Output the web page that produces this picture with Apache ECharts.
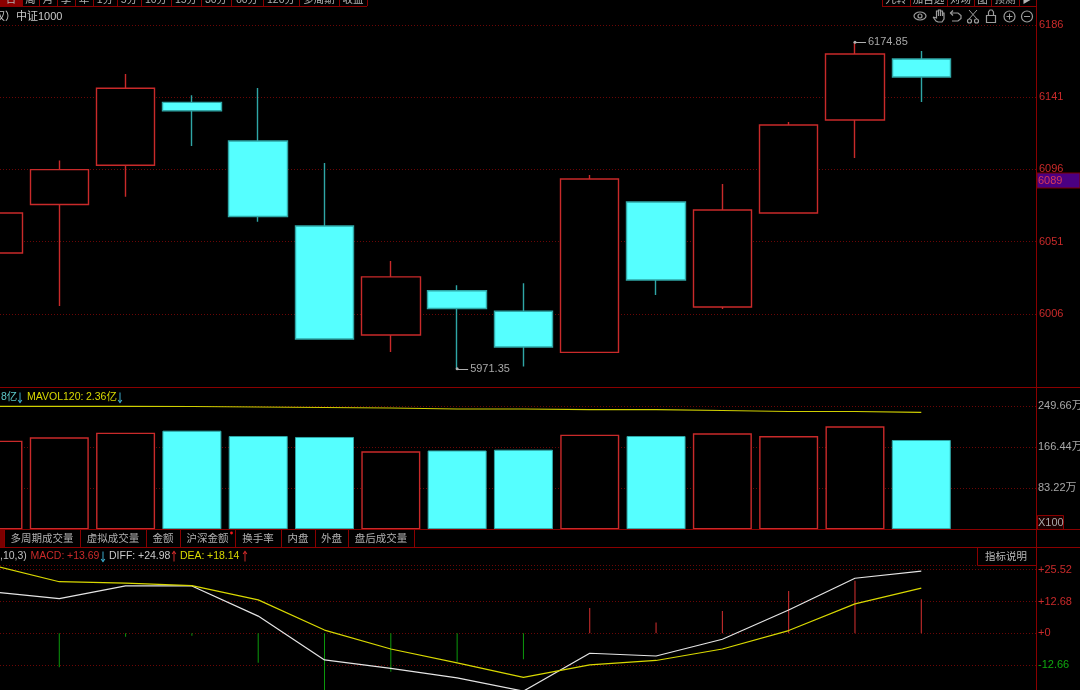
<!DOCTYPE html>
<html>
<head>
<meta charset="utf-8">
<style>html,body{margin:0;padding:0;background:#000}#c{width:1080px;height:690px}</style>
<script src="https://cdn.jsdelivr.net/npm/echarts@6/dist/echarts.min.js"></script>
</head>
<body>
<div id="c"></div>
<script>
// ---- data ----
const positions = [-1,0,1,2,3,4,5,6,7,8,9,10,11,12,13];
const opens  = [6043.5,6073.7,6098.2,6137.4,6113.3,6060.3,5992.4,6020.0,6007.2,5981.6,6075.3,6009.9,6068.4,6126.4,6164.4];
const closes = [6068.4,6095.5,6146.2,6132.2,6066.3,5989.9,6028.6,6008.9,5984.9,6089.6,6026.7,6070.3,6123.3,6167.5,6153.2];
const lows   = [6040.0,6010.5,6078.6,6110.2,6063.0,5989.9,5981.8,5971.35,5972.7,5981.6,6017.3,6008.6,6068.4,6102.7,6137.6];
const highs  = [6072.0,6101.2,6155.1,6141.8,6146.3,6099.6,6038.6,6023.4,6024.6,6092.1,6075.3,6086.5,6125.1,6174.85,6169.4];
const volumes  = [179.9,186.8,196.1,200.2,189.4,187.4,158.3,160.0,161.6,192.0,189.4,194.9,189.4,209.1,181.3];
const mavol120 = [249.7,249.7,249.5,249.3,248.3,247.3,246.2,244.2,244.2,242.8,242.8,241.2,239.1,239.1,237.5];
const diffs = [16.6,13.9,19.0,19.0,6.9,-10.7,-14.1,-17.9,-23.2,-8.0,-9.1,-2.4,9.35,22.1,24.98];
const deas  = [27.2,20.7,20.1,19.1,13.4,1.3,-6.3,-11.9,-17.7,-12.7,-10.9,-6.3,1.1,11.8,18.14];
const macds = [-21.0,-13.6,-1.4,-1.0,-11.8,-24.0,-15.4,-11.4,-10.4,10.2,4.3,8.9,17.0,21.1,13.69];
const priceTicks = [6005.6,6050.6,6095.6,6140.6,6185.6];
const volumeTicks = [83.22,166.44,249.66];
const macdTicks = [-12.66,0,12.68,25.52];
const macdExtraGrid = 27.13;
const topTabsLeft = ['日','周','月','季','年','1分','5分','10分','15分','30分','60分','120分','多周期','收益'];
const topTabsRight = ['九转','加自选','对场','图','预测','▶'];
const volumeTabs = ['多周期成交量','虚拟成交量','金额','沪深金额','换手率','内盘','外盘','盘后成交量'];
const highLabel = 6174.85, lowLabel = 5971.35;

// ---- style ----
const RED='#c92a2a', CYAN='#55ffff', CYANE='#2fa6a6', GRID='#6a0606', LINE='#8a0000';
const FONT='"Liberation Sans","Noto Sans CJK SC",sans-serif';
const GREY='#a8a8a8', ICON='#9c9c9c', ARROWB='#3aa8c8';
const split={show:true,lineStyle:{color:GRID,type:[1,2],width:1}};
const xBase={type:'value',min:-0.894,max:14.73,show:false};
const isUp=i=>closes[i]>opens[i];

function T(x,y,text,fill,size,align){
  return {type:'text',x:x,y:y,z:50,silent:true,style:{text:text,fill:fill,font:(size||11)+'px '+FONT,
    textAlign:align||'left',textVerticalAlign:'middle'}};
}
function R(x,y,w,h,fill,stroke){
  return {type:'rect',z:40,silent:true,shape:{x:x,y:y,width:w,height:h},style:{fill:fill||'transparent',stroke:stroke||null,lineWidth:1}};
}
function L(x1,y1,x2,y2,c){
  return {type:'line',z:45,silent:true,shape:{x1:x1,y1:y1,x2:x2,y2:y2},style:{stroke:c||LINE,lineWidth:1}};
}
function C(cx,cy,r){
  return {type:'circle',z:50,silent:true,shape:{cx:cx,cy:cy,r:r},style:{fill:'none',stroke:ICON,lineWidth:1.2}};
}
function PL(points,c){
  return {type:'polyline',z:50,silent:true,shape:{points:points},style:{fill:'none',stroke:c||ICON,lineWidth:1.2}};
}
function ARROW(x,y,down,c){
  const tip=down?y+5:y-5, back=down?y+2.5:y-2.5;
  return [L(x,y-5,x,y+5,c),PL([[x-1.8,back],[x,tip],[x+1.8,back]],c)];
}
const g=[];
// panel rules
g.push(L(1036.5,0,1036.5,690,'#8a0000'));
g.push(L(0,387.5,1080,387.5));
g.push(L(0,529.5,1080,529.5));
g.push(L(0,547.5,1080,547.5));
// top tabs (cut off by the window)
const leftEdges=[0,22,39,57,75,93,117,141,171,201,231,263,299,339,367];
g.push(R(0,-2,22,8,'#8c0000'));
topTabsLeft.forEach((t,i)=>{
  g.push(L(leftEdges[i+1]+.5,0,leftEdges[i+1]+.5,6));
  g.push(T((leftEdges[i]+leftEdges[i+1])/2,0,t,'#b4b4b4',10.5,'center'));
});
g.push(L(0,6.5,367,6.5,'#8a0000'));
const rightEdges=[882,910,947,974,991,1019,1036];
rightEdges.forEach(x=>g.push(L(x+.5,0,x+.5,6)));
topTabsRight.forEach((t,i)=>g.push(T((rightEdges[i]+rightEdges[i+1])/2,0,t,'#b4b4b4',10.5,'center')));
g.push(L(882,6.5,1036,6.5,'#8a0000'));
// title
g.push(T(16,16.5,'权）','#c8c8c8',11,'right'));
g.push(T(16,16.5,'中证1000','#c8c8c8',11));
// tool icons
g.push({type:'ellipse',z:50,silent:true,shape:{cx:920,cy:16,rx:6,ry:4},style:{fill:'none',stroke:ICON,lineWidth:1.2}},C(920,16,2));
g.push(PL([[933,17],[936,21],[938,22],[942,22],[944,19],[944,13],[942.5,13],[942.5,16],[942.5,11],[940.5,11],[940.5,16],[940.5,10],[938.5,10],[938.5,16],[938.5,11],[936.5,11],[936.5,18],[933,17]]));
g.push(PL([[953,10.5],[950.5,13],[953,15.5]]),PL([[950.5,13],[958,13],[961,15.5],[961,18.5],[958,21],[952,21]]));
g.push(L(969,10,977,19,ICON),L(977,10,969,19,ICON),C(969.5,21,2),C(976.5,21,2));
g.push({type:'rect',z:50,silent:true,shape:{x:986.5,y:15.5,width:9,height:7},style:{fill:'none',stroke:ICON,lineWidth:1.2}});
g.push(PL([[988.5,15.5],[988.5,12],[990,10],[992,10],[993.5,12],[993.5,15.5]]));
g.push(C(1009.5,16.5,5.5),L(1006.5,16.5,1012.5,16.5,ICON),L(1009.5,13.5,1009.5,19.5,ICON));
g.push(C(1027,16.5,5.5),L(1024,16.5,1030,16.5,ICON));
// last price tag
g.push(R(1037,173,43,15,'#4b0082','#7c0000'));
g.push(T(1038,181,'6089','#d83a5a',11));
// volume legend
g.push(T(1,397.5,'8亿','#5cc8c8',10.5));
g.push(...ARROW(20,397.5,true,ARROWB));
g.push(T(27,397.5,'MAVOL120:','#d8d800',10.5));
g.push(T(86,397.5,'2.36亿','#d8d800',10.5));
g.push(...ARROW(120,397.5,true,ARROWB));
// volume tabs
g.push(R(0,530,4,17,'#7c0000'));
const tabEdges=[4,80,146,180,235,281,315,348,414];
tabEdges.forEach(x=>g.push(L(x+.5,530,x+.5,547)));
volumeTabs.forEach((t,i)=>g.push(T((tabEdges[i]+tabEdges[i+1])/2,539,t,'#b0b0b0',10.5,'center')));
g.push({type:'circle',z:50,silent:true,shape:{cx:231.5,cy:533,r:1.4},style:{fill:'#f01818'}});
// x100 box
g.push(R(1037.5,515.5,26,14,'#1a0000',LINE));
g.push(T(1038,523,'X100',GREY,11));
// MACD legend
g.push(T(0,556.5,',10,3)','#c0c0c0',10.5));
g.push(T(30.5,556.5,'MACD:',RED,10.5));
g.push(T(67,556.5,'+13.69',RED,10.5));
g.push(...ARROW(103,556.5,true,ARROWB));
g.push(T(109,556.5,'DIFF:','#c8c8c8',10.5));
g.push(T(138,556.5,'+24.98','#c8c8c8',10.5));
g.push(...ARROW(174,556.5,false,RED));
g.push(T(180,556.5,'DEA:','#d8d800',10.5));
g.push(T(207,556.5,'+18.14','#d8d800',10.5));
g.push(...ARROW(245,556.5,false,RED));
// indicator button
g.push(R(977.5,547.5,59,18,'#000',LINE));
g.push(T(1006,557,'指标说明','#b8b8b8',10.5,'center'));

const sign=v=>(v>0?'+':'')+(v===0?'+0':v);
const pad=[2,0,0,0];
const option={
  backgroundColor:'#000',animation:false,
  grid:[
    {left:0,right:44,top:25,height:362,outerBoundsMode:'none'},
    {left:0,right:44,top:387.5,height:141.8,outerBoundsMode:'none'},
    {left:0,right:44,top:547,height:143,outerBoundsMode:'none'}
  ],
  xAxis:[Object.assign({gridIndex:0},xBase),Object.assign({gridIndex:1},xBase),Object.assign({gridIndex:2},xBase)],
  yAxis:[
    {gridIndex:0,type:'value',position:'right',min:5960,max:6185.6,scale:true,axisLine:{show:false},
      axisTick:{show:false,customValues:priceTicks},splitLine:split,
      axisLabel:{customValues:priceTicks,formatter:v=>String(Math.round(v)),color:RED,fontSize:11,fontFamily:FONT,margin:3,padding:pad,showMinLabel:true,showMaxLabel:true}},
    {gridIndex:1,type:'value',position:'right',min:0,max:287.85,axisLine:{show:false},
      axisTick:{show:false,customValues:volumeTicks},splitLine:split,
      axisLabel:{customValues:volumeTicks,formatter:v=>v.toFixed(2)+'万',color:GREY,fontSize:11,fontFamily:FONT,margin:2,padding:pad}},
    {gridIndex:2,type:'value',position:'right',min:-22.75,max:34.63,axisLine:{show:false},
      axisTick:{show:false,customValues:macdTicks.concat([macdExtraGrid])},splitLine:split,
      axisLabel:{customValues:macdTicks,formatter:v=>sign(v),fontSize:11,fontFamily:FONT,margin:2,padding:pad,
        color:v=>(String(v).charAt(0)==='-')?'#0fa80f':RED}}
  ],
  series:[
    {type:'candlestick',xAxisIndex:0,yAxisIndex:0,barWidth:59,
      data:positions.map((p,i)=>[p,opens[i],closes[i],lows[i],highs[i]]),
      itemStyle:{color:'#000',color0:CYAN,borderColor:RED,borderColor0:CYANE,borderWidth:1.4},
      markLine:{silent:true,animation:false,symbol:['circle','none'],symbolSize:3,
        lineStyle:{color:'#b0b0b0',type:'solid',width:1},
        label:{show:true,position:'end',distance:2,color:GREY,fontSize:11,fontFamily:FONT,formatter:p=>p.data.tag},
        data:[
          [{coord:[12,highLabel],tag:String(highLabel)},{coord:[12.166,highLabel]}],
          [{coord:[6,lowLabel],tag:String(lowLabel)},{coord:[6.166,lowLabel]}]
        ]}},
    {type:'bar',xAxisIndex:1,yAxisIndex:1,barWidth:59,
      data:positions.map((p,i)=>({value:[p,volumes[i]],itemStyle:isUp(i)?{color:'#000',borderColor:RED,borderWidth:1.4}:{color:CYAN,borderColor:CYANE,borderWidth:1}}))},
    {type:'line',xAxisIndex:1,yAxisIndex:1,symbol:'none',lineStyle:{color:'#cfcf00',width:1.2},
      data:positions.map((p,i)=>[p,mavol120[i]])},
    {type:'bar',xAxisIndex:2,yAxisIndex:2,barWidth:1,
      data:positions.map((p,i)=>({value:[p,macds[i]],itemStyle:{color:macds[i]<0?'#0c9a0c':'#d83030'}}))},
    {type:'line',xAxisIndex:2,yAxisIndex:2,symbol:'none',lineStyle:{color:'#e4e4e4',width:1.2},
      data:positions.map((p,i)=>[p,diffs[i]])},
    {type:'line',xAxisIndex:2,yAxisIndex:2,symbol:'none',lineStyle:{color:'#d8d800',width:1.2},
      data:positions.map((p,i)=>[p,deas[i]])}
  ],
  graphic:{elements:g}
};
echarts.init(document.getElementById('c'),null,{renderer:'canvas'}).setOption(option);
</script>
</body>
</html>
